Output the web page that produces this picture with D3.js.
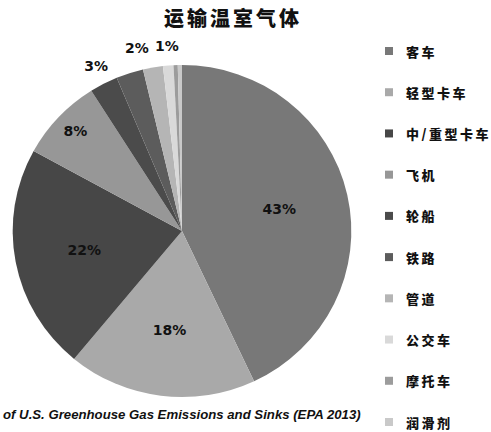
<!DOCTYPE html>
<html><head><meta charset="utf-8">
<script src="https://cdn.jsdelivr.net/npm/d3@7"></script>
<style>body{margin:0;background:#fff}svg{display:block}</style>
</head><body>
<svg id="c" width="491" height="432"></svg>
<script>
const title = "运输温室气体";
const categories = ["客车","轻型卡车","中/重型卡车","飞机","轮船","铁路","管道","公交车","摩托车","润滑剂"];
const values = [43, 18, 22, 8, 2.7, 2.6, 1.9, 1.0, 0.4, 0.4];
const labels = ["43%","18%","22%","8%","3%","","2%","1%","",""];
const colors = ["#787878","#a9a9a9","#474747","#979797","#4b4b4b","#5c5c5c","#b5b5b5","#d9d9d9","#9c9c9c","#c9c9c9"];
const source = "of U.S. Greenhouse Gas Emissions and Sinks (EPA 2013)";

const svg = d3.select("#c");
const cx = 182, cy = 231, r = 166;
const pie = d3.pie().sort(null).value(d => d)(values);
const arc = d3.arc().innerRadius(0).outerRadius(r);
const g = svg.append("g").attr("transform", `translate(${cx},${cy}) scale(1.02,1)`);
g.selectAll("path").data(pie).join("path")
  .attr("d", arc).attr("fill", (d,i) => colors[i]);

const inner = d3.arc().innerRadius(r*0.6).outerRadius(r*0.6);
const mid = d3.arc().innerRadius(r*0.88).outerRadius(r*0.88);
const outer = d3.arc().innerRadius(r*1.12).outerRadius(r*1.12);
const pos = pie.map(d => d.value >= 10 ? inner.centroid(d) : d.value >= 5 ? mid.centroid(d) : outer.centroid(d));
// resolve collisions among outer labels (right to left)
const outerIdx = pie.map((d,i) => i).filter(i => pie[i].value < 5 && labels[i]).sort((a,b) => pos[b][0] - pos[a][0]);
for (let k = 1; k < outerIdx.length; k++) {
  const prev = pos[outerIdx[k-1]], cur = pos[outerIdx[k]];
  if (Math.abs(prev[1] - cur[1]) < 16 && prev[0] - cur[0] < 30) cur[0] = prev[0] - 30;
}
const lg = svg.append("g").attr("transform", `translate(${cx},${cy})`);
lg.selectAll("text").data(pie).join("text")
  .attr("transform", (d,i) => `translate(${pos[i][0]},${pos[i][1]})`)
  .attr("text-anchor","middle").attr("dominant-baseline","central")
  .style("font-family","'DejaVu Sans', sans-serif").style("font-weight","bold").style("font-size","14px")
  .attr("fill","#111")
  .text((d,i) => labels[i]);

svg.append("text").attr("x", 233).attr("y", 26).attr("text-anchor","middle")
  .style("font-family","'Noto Sans CJK SC', sans-serif").style("font-weight","900")
  .style("font-size","20px").style("letter-spacing","3px").attr("fill","#111")
  .text(title);

const ly = d3.scalePoint().domain(categories).range([51, 422]);
const leg = svg.append("g").selectAll("g").data(categories).join("g")
  .attr("transform", d => `translate(385,${ly(d)})`);
leg.append("rect").attr("x",0).attr("y",-4).attr("width",8).attr("height",8)
  .attr("fill", (d,i) => colors[i]);
leg.append("text").attr("x",21).attr("y",0).attr("dominant-baseline","central")
  .style("font-family","'Noto Sans CJK SC', sans-serif").style("font-weight","900")
  .style("font-size","13px").style("letter-spacing","2.5px").attr("fill","#111")
  .text(d => d);

svg.append("text").attr("x", 3).attr("y", 419)
  .style("font-family","'Liberation Sans', Arial, sans-serif").style("font-weight","bold")
  .style("font-style","italic").style("font-size","13.2px").attr("fill","#111")
  .text(source);
</script>
</body></html>
